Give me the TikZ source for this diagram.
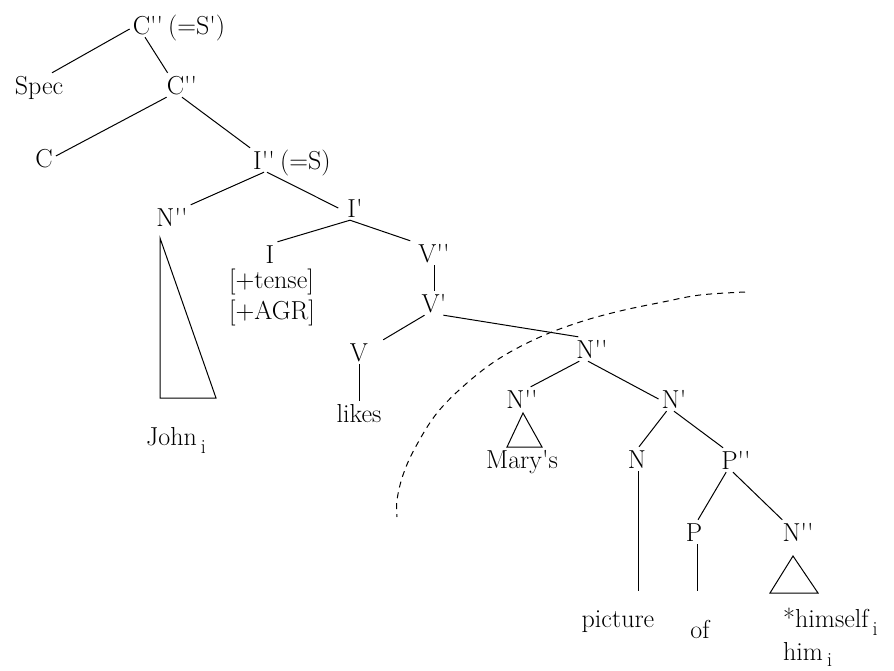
\documentclass[tikz,border=0pt]{standalone}
\usetikzlibrary{calc}
\newcommand{\pq}{\textquotesingle}
\newcommand{\subi}[1][8pt]{\hspace{4pt}\raisebox{-#1}{\fontsize{20}{22}\selectfont i}}
\begin{document}
\begin{tikzpicture}[x=1pt,y=-1pt,
  lab/.style={inner sep=3pt, text height=18pt, text depth=0pt, font=\fontsize{26}{30}\selectfont},
  edge/.style={line width=1pt},
  tri/.style={line width=1pt, line join=miter},
  curve/.style={line width=1pt, dash pattern=on 6pt off 5pt}]
\useasboundingbox[fill=white] (0,0) rectangle (894,670);

% nodes
\node[lab] (c1) at (148,25) {C\pq\pq};
\node[lab, anchor=west] (c1x) at (165,25) {(=S\pq)};
\node[lab] (spec) at (39,85) {Spec};
\node[lab] (c2) at (182,85) {C\pq\pq};
\node[lab] (cc) at (44,158) {C};
\node[lab] (i2) at (264,160) {I\pq\pq};
\node[lab, anchor=west] (i2x) at (277,160) {(=S)};
\node[lab] (n1) at (172,217) {N\pq\pq};
\node[lab] (i1) at (355,208) {I\pq};
\node[lab] (i0) at (270,254) {I};
\node[lab, anchor=west] (tense) at (226,279.5) {[+tense]};
\node[lab, anchor=west] (agr) at (226,310.5) {[+AGR]};
\node[lab] (v2) at (434,253) {V\pq\pq};
\node[lab] (v1) at (434,303) {V\pq};
\node[lab] (v0) at (359,352) {V};
\node[lab] (likes) at (359,413) {likes};
\node[lab] (john) at (176,436) {John\subi};
\node[lab] (n2) at (592,349) {N\pq\pq};
\node[lab] (n3) at (522,399) {N\pq\pq};
\node[lab] (n4) at (674,399) {N\pq};
\node[lab] (mary) at (522,459) {Mary\pq s};
\node[lab] (nn) at (637,459) {N};
\node[lab] (p2) at (736,460) {P\pq\pq};
\node[lab] (pp) at (694,532) {P};
\node[lab] (n5) at (798,532) {N\pq\pq};
\node[lab] (picture) at (618,618) {picture};
\node[lab] (of) at (700,629) {of};
\node[lab, anchor=west] (himself) at (780,618) {*himself\subi};
\node[lab, anchor=west] (him) at (780,651) {him\subi[6pt]};

% connectors
\draw[edge] ([xshift=13pt]spec.north) -- ([yshift=-4pt]c1.west);
\draw[edge] ([xshift=-3pt]c1.south) -- ([xshift=4pt]c2.north west);
\draw[edge] ([xshift=3pt]c2.south west) -- ([yshift=2pt]cc.east);
\draw[edge] (c2.south) -- (i2.north west);
\draw[edge] (i2.south) -- (n1.north east);
\draw[edge] ([xshift=3pt]i2.south) -- ([xshift=-6pt]i1.west);
\draw[edge] ([xshift=-5pt]i1.south) -- (i0.north east);
\draw[edge] ([xshift=-5pt]i1.south) -- ([xshift=-5pt]v2.north west);
\draw[edge] (v2.south) -- (v1.north);
\draw[edge] ([xshift=6pt]v1.south west) -- ([xshift=12pt]v0.north east);
\draw[edge] (v0.south) -- (likes.north);
\draw[edge] ([xshift=-6pt]v1.south east) -- ([xshift=5pt]n2.north west);
\draw[edge] ([xshift=6pt]n2.south west) -- ([xshift=-10pt]n3.north east);
\draw[edge] ([xshift=-4pt]n2.south) -- (n4.west);
\draw[edge] ([xshift=8pt]n4.south west) -- ([xshift=2pt]nn.north);
\draw[edge] (n4.south) -- ([xshift=5pt]p2.north west);
\draw[edge, shorten >=15pt] ([xshift=1pt]nn.south) -- ([xshift=1pt]nn.south |- picture.north);
\draw[edge] ([xshift=8pt]p2.south west) -- ([xshift=4pt]pp.north);
\draw[edge] ([xshift=-3pt]p2.south) -- ([xshift=3pt]n5.north west);
\draw[edge, shorten >=26pt] ([xshift=3pt]pp.south) -- ([xshift=3pt]pp.south |- of.north);

% triangles
\draw[tri] (160,238) -- (160,398) -- (216,398) -- cycle;
\draw[tri] (523,413) -- (507,447) -- (542,447) -- cycle;
\draw[tri] (793,556) -- (770,593) -- (818,593) -- cycle;

% dashed boundary
\draw[curve] plot[smooth, tension=0.6] coordinates {(745,292) (700,295) (663,302) (620,311) (580,322) (540,337) (500,358) (467,383) (437,413) (415,448) (403,475) (397,500) (397,517)};
\end{tikzpicture}
\end{document}
